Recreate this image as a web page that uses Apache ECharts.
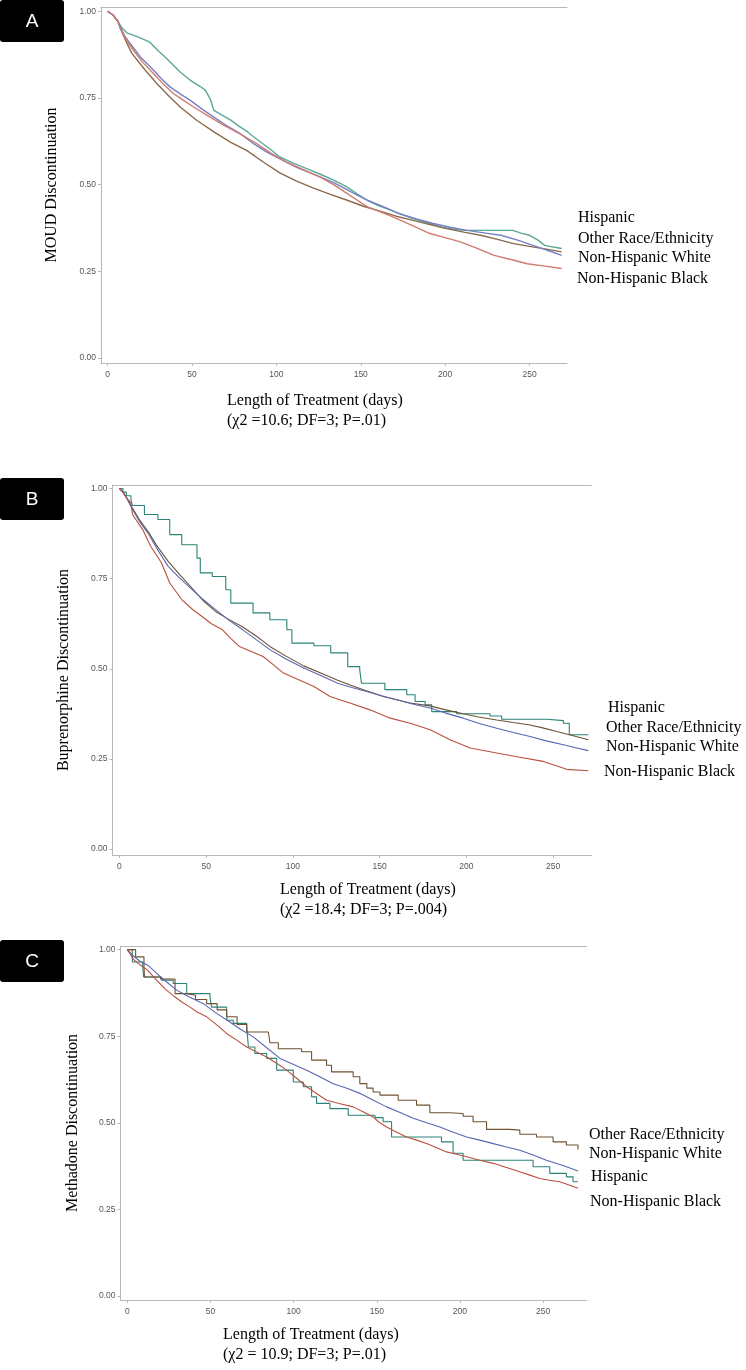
<!DOCTYPE html>
<html>
<head>
<meta charset="utf-8">
<script src="https://cdn.jsdelivr.net/npm/echarts@6/dist/echarts.min.js"></script>
<style>html,body{margin:0;padding:0;background:#fff;}#c{width:746px;height:1370px;}</style>
</head>
<body>
<div id="c"></div>
<script>
// ---------- tick labels ----------
const yTicks = [0, 0.25, 0.5, 0.75, 1];
const xTicks = [0, 50, 100, 150, 200, 250];
const groups = ['Hispanic', 'Other Race/Ethnicity', 'Non-Hispanic White', 'Non-Hispanic Black'];

// ---------- Panel A: MOUD ----------
const A_hispanic = [[0,1],[3,0.99],[6,0.972],[8.7,0.951],[11.7,0.937],[16,0.93],[20,0.922],[25,0.911],[30,0.886],[35,0.864],[43,0.825],[49,0.801],[55,0.783],[58,0.772],[61,0.745],[63,0.714],[68,0.700],[73,0.686],[78,0.668],[83,0.652],[87,0.636],[92,0.618],[97,0.600],[102,0.58],[110,0.562],[118,0.546],[126,0.53],[134,0.513],[142,0.493],[148,0.473],[154,0.455],[160,0.44],[168,0.426],[175,0.413],[181,0.402],[190,0.39],[197,0.378],[204,0.372],[211,0.368],[240,0.368],[245,0.36],[250,0.354],[255,0.34],[259,0.325],[264,0.32],[269,0.316]];
const A_other = [[0,1],[3,0.99],[6,0.972],[7.5,0.951],[11,0.912],[14.5,0.878],[22,0.832],[29.3,0.791],[36,0.757],[43,0.724],[53,0.685],[63,0.652],[73,0.622],[82.6,0.598],[92,0.566],[102,0.534],[112,0.510],[122,0.490],[132,0.472],[142,0.455],[152,0.437],[162,0.423],[171,0.409],[181,0.397],[191,0.385],[201,0.373],[211,0.363],[221,0.354],[231,0.342],[240.5,0.33],[250,0.322],[260,0.314],[269,0.306]];
const A_white = [[0,1],[3,0.99],[6,0.972],[7.5,0.955],[10,0.93],[13.4,0.907],[20,0.865],[27.3,0.83],[32,0.805],[37,0.782],[43,0.762],[49,0.743],[56,0.718],[63,0.695],[70,0.672],[78.6,0.647],[86,0.62],[94.4,0.594],[103,0.572],[112,0.550],[123,0.528],[134,0.506],[144,0.48],[154,0.455],[164,0.435],[173,0.416],[183,0.401],[193,0.388],[203,0.377],[213,0.368],[223,0.361],[233,0.354],[243,0.34],[252,0.325],[261,0.31],[269,0.296]];
const A_black = [[0,1],[3,0.99],[6,0.972],[7.5,0.951],[11,0.918],[15.4,0.887],[21,0.852],[27.3,0.82],[33,0.79],[39,0.763],[45,0.743],[51,0.724],[60,0.697],[69,0.671],[79,0.645],[88.5,0.618],[97,0.59],[106,0.565],[116,0.543],[126,0.522],[134,0.5],[142,0.474],[148,0.455],[154,0.436],[162,0.421],[169,0.407],[180,0.383],[191,0.359],[200,0.347],[209,0.335],[219,0.316],[229,0.296],[239,0.284],[248.5,0.272],[259,0.265],[269,0.258]];

// ---------- Panel B: Buprenorphine ----------
const B_hispanic = [[0,1],[2,0.99],[4,0.98],[6.6,0.969],[7.5,0.953],[14.4,0.928],[22.2,0.914],[29,0.872],[35.9,0.844],[44.7,0.807],[46.6,0.766],[53.5,0.756],[61.3,0.719],[64.2,0.682],[77,0.655],[86.7,0.636],[96.5,0.608],[99.4,0.571],[112.1,0.564],[121.8,0.544],[131.6,0.506],[138.5,0.497],[139.5,0.46],[153,0.442],[165.6,0.428],[170.4,0.409],[176.2,0.40],[180,0.381],[194.4,0.375],[213.6,0.369],[220.3,0.36],[246.3,0.356],[255.9,0.349],[259.3,0.317],[270.3,0.317]];
const B_other = [[0,1],[2,0.99],[4,0.975],[7.5,0.946],[12,0.91],[16.4,0.881],[22,0.838],[28.1,0.798],[35,0.76],[41.8,0.724],[48,0.69],[55.4,0.659],[63,0.637],[71.1,0.616],[79,0.59],[86.7,0.562],[96,0.535],[106.2,0.508],[116,0.488],[125.8,0.468],[133,0.455],[140.6,0.442],[152.1,0.423],[167.5,0.405],[179,0.397],[188,0.386],[198.2,0.375],[207,0.366],[217.5,0.358],[227,0.351],[236.7,0.344],[244,0.336],[252,0.326],[261,0.315],[270.3,0.303]];
const B_white = [[0,1],[2,0.99],[4,0.975],[7.5,0.942],[12,0.905],[16.4,0.877],[22,0.83],[28.1,0.784],[34,0.755],[39.8,0.729],[47,0.697],[55.4,0.664],[63,0.635],[71.1,0.608],[79,0.58],[86.7,0.553],[96,0.527],[106.2,0.502],[116,0.481],[125.8,0.46],[134,0.448],[142.5,0.437],[151,0.425],[159.8,0.414],[169,0.402],[179,0.391],[188,0.377],[198.2,0.363],[207,0.349],[217.5,0.335],[227,0.323],[236.7,0.312],[246,0.3],[255.9,0.289],[263,0.281],[270.3,0.273]];
const B_black = [[0,1],[2,0.99],[4,0.975],[6.6,0.96],[7.5,0.928],[13.4,0.886],[18,0.84],[24.2,0.794],[29,0.738],[35.9,0.692],[42,0.665],[47.6,0.645],[53,0.625],[59.4,0.608],[64,0.585],[69.1,0.562],[76,0.548],[82.8,0.534],[89,0.51],[94.5,0.488],[103,0.47],[112.1,0.451],[121.4,0.423],[127,0.414],[132.9,0.405],[144.4,0.386],[156.1,0.363],[167.6,0.349],[179.1,0.331],[190.6,0.303],[202.1,0.28],[213.6,0.27],[229,0.256],[244.3,0.243],[257.8,0.221],[270.3,0.217]];

// ---------- Panel C: Methadone ----------
const C_hispanic = [[0,1],[3,0.964],[9.3,0.95],[9.8,0.921],[20.5,0.912],[27.6,0.902],[35.7,0.873],[49.7,0.863],[50.7,0.834],[59.7,0.834],[59.9,0.796],[63.7,0.787],[71.8,0.777],[72.8,0.719],[76.7,0.70],[83.8,0.686],[89.8,0.652],[99.8,0.618],[105.8,0.604],[110.8,0.575],[113.8,0.556],[121.8,0.541],[132.8,0.522],[148.9,0.515],[153.8,0.503],[158.9,0.459],[180.9,0.459],[188.9,0.445],[195.9,0.412],[201.9,0.392],[241,0.392],[244,0.373],[254,0.354],[264,0.344],[268,0.33],[271,0.33]];
const C_other = [[0,1],[5,0.979],[10,0.955],[10.3,0.921],[20,0.915],[28.7,0.873],[35.7,0.868],[41,0.856],[47.7,0.844],[54,0.826],[59.7,0.806],[66,0.784],[71.8,0.762],[84.8,0.758],[85.8,0.731],[90.8,0.714],[104.8,0.705],[110.8,0.681],[119.8,0.666],[122.8,0.647],[135.8,0.633],[139.8,0.613],[144,0.60],[147.8,0.589],[151.9,0.58],[162.9,0.565],[173.9,0.551],[181.9,0.529],[193.9,0.527],[201.9,0.519],[207.9,0.503],[216,0.481],[230,0.479],[236,0.467],[246,0.459],[256,0.445],[264,0.436],[271,0.423]];
const C_white = [[0,1],[4,0.98],[8,0.965],[12.3,0.955],[18,0.93],[24,0.905],[29.7,0.883],[37,0.864],[45.7,0.844],[53,0.818],[61.7,0.791],[68,0.77],[75.7,0.748],[84,0.716],[91.8,0.686],[100,0.668],[107.8,0.652],[116,0.632],[123.8,0.613],[132,0.6],[139.8,0.585],[148,0.565],[155.9,0.546],[164,0.53],[171.9,0.513],[180,0.5],[187.9,0.488],[196,0.473],[204,0.459],[212,0.45],[220,0.44],[228,0.43],[236,0.421],[244,0.407],[252,0.392],[262,0.377],[271,0.361]];
const C_black = [[0,1],[4,0.97],[8,0.955],[12.3,0.94],[18,0.91],[23,0.885],[28.7,0.863],[33,0.848],[37.7,0.834],[42,0.82],[47.7,0.806],[54,0.782],[59.7,0.758],[66,0.738],[71.8,0.719],[78,0.704],[83.8,0.69],[90,0.671],[95.8,0.652],[102,0.628],[107.8,0.604],[114,0.584],[119.8,0.565],[128,0.555],[135.8,0.546],[142,0.531],[147.8,0.517],[151,0.503],[155.9,0.488],[162,0.473],[167.9,0.459],[174,0.45],[179.9,0.44],[186,0.428],[191.9,0.416],[198,0.409],[204,0.402],[212,0.392],[220,0.383],[228,0.371],[236,0.359],[242,0.349],[248,0.339],[254,0.334],[260,0.33],[266,0.32],[271,0.311]];

// ---------- layout / style (not data) ----------
const serif = '"Liberation Serif", "Times New Roman", serif';
const sans = '"Liberation Sans", Arial, sans-serif';
const panels = [
  { letter:'A', yName:'MOUD Discontinuation', stat:'(\u03c72 =10.6; DF=3; P=.01)',
    grid:{left:101, top:7, width:466, height:356}, x:[-3.9,272.2], y:[-0.0144,1.0124], nameGap:41,
    data:[A_hispanic, A_other, A_white, A_black], steps:[false,false,false,false],
    colors:['#5aa898','#8a6a4a','#7680c2','#d07a70'], lw:1.4,
    box:{y:0}, title:{left:227, top:391},
    labels:[[578,218],[578,239],[578,258],[577,279]] },
  { letter:'B', yName:'Buprenorphine Discontinuation', stat:'(\u03c72 =18.4; DF=3; P=.004)',
    grid:{left:112.5, top:485, width:479, height:370}, x:[-4.0,272.1], y:[-0.0166,1.0097], nameGap:41,
    data:[B_hispanic, B_other, B_white, B_black], steps:['end',false,false,false],
    colors:['#2a8378','#6e5233','#5865b0','#b9503f'], lw:1.1,
    box:{y:478}, title:{left:280, top:880},
    labels:[[608,708],[606,728],[606,747],[604,772]] },
  { letter:'C', yName:'Methadone Discontinuation', stat:'(\u03c72 = 10.9; DF=3; P=.01)',
    grid:{left:120.5, top:946, width:466, height:354}, x:[-4.1,276.1], y:[-0.0115,1.0104], nameGap:40,
    data:[C_hispanic, C_other, C_white, C_black], steps:['end','end',false,false],
    colors:['#2a8378','#6e5233','#5865b0','#b9503f'], lw:1.1,
    box:{y:940}, title:{left:223, top:1325},
    labels:[[591,1177],[589,1135],[589,1154],[590,1202]] }
];

const grid = [], xAxis = [], yAxis = [], series = [], title = [], graphic = [];
panels.forEach((p, i) => {
  grid.push(Object.assign({containLabel:false}, p.grid));
  xAxis.push({
    type:'value', gridIndex:i, min:p.x[0], max:p.x[1], position:'bottom',
    axisLine:{show:true, onZero:false, lineStyle:{color:'#b8b8b8', width:1}},
    axisTick:{show:true, length:3, customValues:xTicks, lineStyle:{color:'#b8b8b8'}},
    axisLabel:{customValues:xTicks, margin:7, fontSize:8.5, color:'#555', fontFamily:sans},
    splitLine:{show:false}
  });
  xAxis.push({
    type:'value', gridIndex:i, min:p.x[0], max:p.x[1], position:'top',
    axisLine:{show:true, onZero:false, lineStyle:{color:'#b8b8b8', width:1}},
    axisTick:{show:false}, axisLabel:{show:false}, splitLine:{show:false}
  });
  yAxis.push({
    type:'value', gridIndex:i, min:p.y[0], max:p.y[1],
    name:p.yName, nameLocation:'middle', nameGap:p.nameGap, nameRotate:90,
    nameTextStyle:{fontFamily:serif, fontSize:16, color:'#000'},
    axisLine:{show:true, onZero:false, lineStyle:{color:'#b8b8b8', width:1}},
    axisTick:{show:true, length:3, customValues:yTicks, lineStyle:{color:'#b8b8b8'}},
    axisLabel:{customValues:yTicks, margin:5, fontSize:8.5, color:'#555', fontFamily:sans,
      formatter:v => v.toFixed(2)},
    splitLine:{show:false}
  });
  p.data.forEach((d, k) => {
    series.push({
      type:'line', name:groups[k] + ' ' + p.letter, xAxisIndex:2*i, yAxisIndex:i,
      data:d, step:p.steps[k], showSymbol:false, symbol:'none', animation:false,
      lineStyle:{color:p.colors[k], width:p.lw}, z:3
    });
  });
  title.push({
    text:'Length of Treatment (days)\n' + p.stat, left:p.title.left, top:p.title.top, padding:0,
    textStyle:{fontFamily:serif, fontSize:16, fontWeight:'normal', color:'#000', lineHeight:20}
  });
  graphic.push({type:'rect', shape:{x:0, y:p.box.y, width:64, height:42, r:3}, style:{fill:'#000'}});
  graphic.push({type:'text', x:32, y:p.box.y+22, style:{text:p.letter, fill:'#fff',
    font:'19px ' + sans, align:'center', verticalAlign:'middle'}});
  p.labels.forEach((pos, k) => {
    graphic.push({type:'text', x:pos[0], y:pos[1], style:{text:groups[k], fill:'#000',
      font:'16px ' + serif, align:'left', verticalAlign:'middle'}});
  });
});

const chart = echarts.init(document.getElementById('c'), null, {renderer:'canvas'});
chart.setOption({backgroundColor:'#fff', animation:false, grid, xAxis, yAxis, series, title, graphic});
</script>
</body>
</html>
